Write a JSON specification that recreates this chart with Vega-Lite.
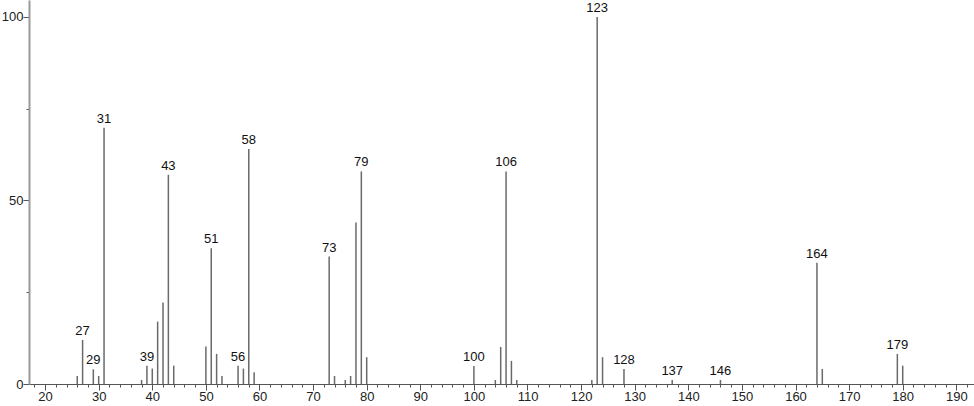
{
  "$schema": "https://vega.github.io/schema/vega-lite/v6.json",
  "autosize": "none",
  "width": 945,
  "height": 384,
  "padding": {"left": 29, "top": 0, "right": 0, "bottom": 22},
  "background": "white",
  "config": {
    "view": {"stroke": null},
    "axis": {"grid": false, "labelFont": "Liberation Sans", "labelFontSize": 13, "labelColor": "#222", "tickColor": "#555", "tickSize": 4},
    "axisX": {"domainColor": "#555", "domainWidth": 1},
    "axisY": {"domainColor": "#999", "domainWidth": 2}
  },
  "data": {"values": [
    {"mz": 26, "intensity": 2.2, "labeled": false},
    {"mz": 27, "intensity": 12, "labeled": true},
    {"mz": 29, "intensity": 4, "labeled": true},
    {"mz": 30, "intensity": 2.2, "labeled": false},
    {"mz": 31, "intensity": 69.8, "labeled": true},
    {"mz": 38, "intensity": 1.1, "labeled": false},
    {"mz": 39, "intensity": 5, "labeled": true},
    {"mz": 40, "intensity": 4.2, "labeled": false},
    {"mz": 41, "intensity": 17, "labeled": false},
    {"mz": 42, "intensity": 22.2, "labeled": false},
    {"mz": 43, "intensity": 57, "labeled": true},
    {"mz": 44, "intensity": 5, "labeled": false},
    {"mz": 50, "intensity": 10.2, "labeled": false},
    {"mz": 51, "intensity": 37, "labeled": true},
    {"mz": 52, "intensity": 8.2, "labeled": false},
    {"mz": 53, "intensity": 2.2, "labeled": false},
    {"mz": 56, "intensity": 5, "labeled": true},
    {"mz": 57, "intensity": 4.2, "labeled": false},
    {"mz": 58, "intensity": 64, "labeled": true},
    {"mz": 59, "intensity": 3.2, "labeled": false},
    {"mz": 73, "intensity": 34.7, "labeled": true},
    {"mz": 74, "intensity": 2.2, "labeled": false},
    {"mz": 76, "intensity": 1.1, "labeled": false},
    {"mz": 77, "intensity": 2.2, "labeled": false},
    {"mz": 78, "intensity": 44, "labeled": false},
    {"mz": 79, "intensity": 57.9, "labeled": true},
    {"mz": 80, "intensity": 7.3, "labeled": false},
    {"mz": 100, "intensity": 4.9, "labeled": true},
    {"mz": 104, "intensity": 1.1, "labeled": false},
    {"mz": 105, "intensity": 10.1, "labeled": false},
    {"mz": 106, "intensity": 57.9, "labeled": true},
    {"mz": 107, "intensity": 6.3, "labeled": false},
    {"mz": 108, "intensity": 1.1, "labeled": false},
    {"mz": 122, "intensity": 1.1, "labeled": false},
    {"mz": 123, "intensity": 100, "labeled": true},
    {"mz": 124, "intensity": 7.3, "labeled": false},
    {"mz": 128, "intensity": 4.1, "labeled": true},
    {"mz": 137, "intensity": 1.1, "labeled": true},
    {"mz": 146, "intensity": 1.1, "labeled": true},
    {"mz": 164, "intensity": 33, "labeled": true},
    {"mz": 165, "intensity": 4.1, "labeled": false},
    {"mz": 179, "intensity": 8.2, "labeled": true},
    {"mz": 180, "intensity": 5, "labeled": false}
  ]},
  "encoding": {
    "x": {"field": "mz", "type": "quantitative", "scale": {"domain": [17, 193.3], "nice": false, "zero": false},
      "axis": {"title": null, "values": [18,20,22,24,26,28,30,32,34,36,38,40,42,44,46,48,50,52,54,56,58,60,62,64,66,68,70,72,74,76,78,80,82,84,86,88,90,92,94,96,98,100,102,104,106,108,110,112,114,116,118,120,122,124,126,128,130,132,134,136,138,140,142,144,146,148,150,152,154,156,158,160,162,164,166,168,170,172,174,176,178,180,182,184,186,188,190,192],
        "labelExpr": "datum.value % 10 == 0 ? datum.label : ''", "labelPadding": 0, "labelOverlap": false, "labelFlush": false,
        "tickSize": {"condition": {"test": "datum.value % 10 == 0", "value": 6}, "value": 3}}},
    "y": {"field": "intensity", "type": "quantitative", "scale": {"domain": [0, 104.6], "nice": false},
      "axis": {"title": null, "values": [0, 25, 50, 75, 100], "labelExpr": "datum.value % 50 == 0 ? datum.label : ''", "labelPadding": 0, "labelOverlap": false,
        "tickSize": {"condition": {"test": "datum.value % 50 == 0", "value": 6}, "value": 3}}}
  },
  "layer": [
    {
      "mark": {"type": "rule", "color": "#6a6a6a", "strokeWidth": 1.5},
      "encoding": {
        "y2": {"datum": 0}
      }
    },
    {
      "transform": [{"filter": "datum.labeled"}],
      "mark": {"type": "text", "baseline": "bottom", "dy": -2, "font": "Liberation Sans", "fontSize": 13, "color": "#111"},
      "encoding": {
        "text": {"field": "mz", "type": "nominal"}
      }
    }
  ]
}
